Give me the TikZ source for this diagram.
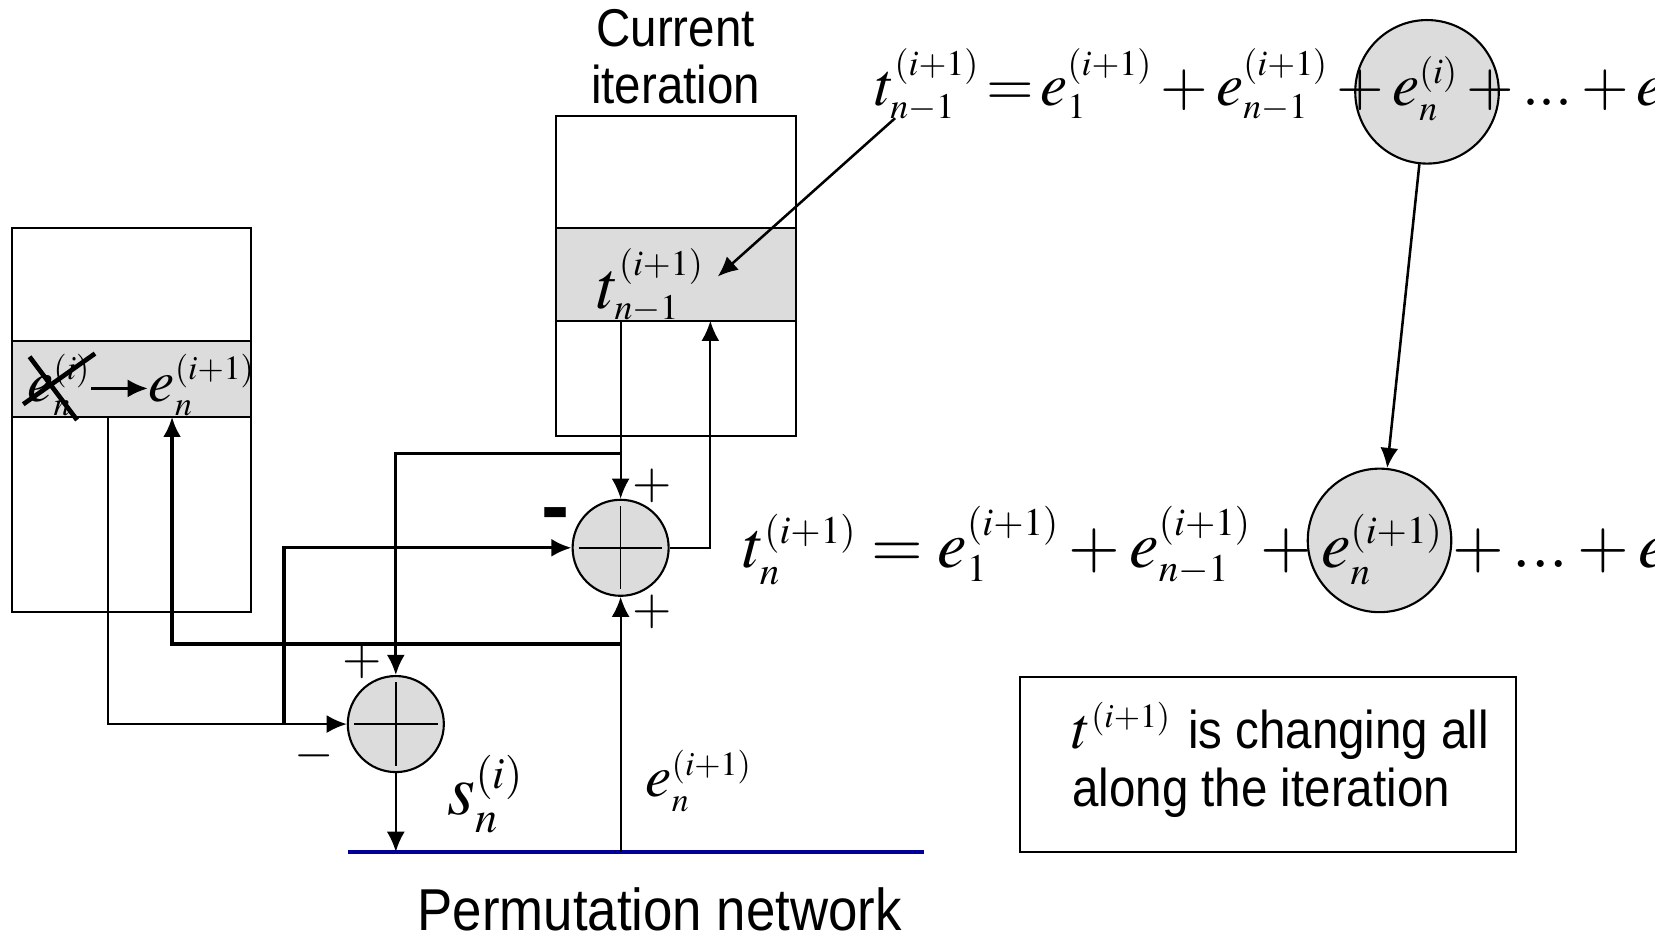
\documentclass[tikz,border=0pt]{standalone}
\usepackage{mathptmx}
\usepackage[no-math]{fontspec}
\newfontfamily\arialfont{Liberation Sans}
\usetikzlibrary{arrows.meta,positioning}
\definecolor{cellgray}{RGB}{220,220,220}
\definecolor{netblue}{RGB}{0,0,153}
\DeclareMathSizes{32}{32}{17}{12}
\DeclareMathSizes{31.5}{31.5}{18.5}{13}
\DeclareMathSizes{29}{29}{17}{12}
\DeclareMathSizes{28}{28}{16}{12}
\DeclareMathSizes{34}{34}{21}{15}
\newcommand{\tallbox}[1]{\scalebox{1}[1.12]{#1}}

\begin{document}
\begin{tikzpicture}[%
x=0.5pt, y=-0.5pt, >={Latex[length=9.5pt,width=8.5pt]}, line width=1pt,
mem/.style={draw, rectangle, inner sep=0pt},
cell/.style={draw, rectangle, fill=cellgray, inner sep=0pt},
adder/.style={draw, circle, fill=cellgray, minimum size=45.5pt, inner sep=0pt,
  path picture={\draw[line width=0.7pt] ([xshift=3pt]path picture bounding box.west) -- ([xshift=-3pt]path picture bounding box.east);
    \draw[line width=0.7pt] ([yshift=-3pt]path picture bounding box.north) -- ([yshift=3pt]path picture bounding box.south);}},
termring/.style={draw, circle, fill=cellgray, minimum size=68pt, inner sep=0pt},
topeq/.style={anchor=base west, inner sep=0pt, font=\fontsize{29}{33}\selectfont},
bigeq/.style={anchor=base west, inner sep=0pt, font=\fontsize{31.5}{36}\selectfont},
bandeq/.style={anchor=base west, inner sep=0pt, font=\fontsize{32}{36}\selectfont},
smalleq/.style={inner sep=0pt, font=\fontsize{28}{32}\selectfont},
sign/.style={inner sep=0pt, font=\fontsize{24}{28}\selectfont},
sans/.style={inner sep=0pt, font=\arialfont\fontsize{22.5}{27}\selectfont}
]
\useasboundingbox (0,0) rectangle (1568,887);
\clip (0,0) rectangle (1568,887);

% memories
\node[mem, minimum width=113.5pt, minimum height=182pt] (memL) at (124.5,398) {};
\node[cell, minimum width=113.5pt, minimum height=36pt] (bandL) at (124.5,359) {};
\node[mem, minimum width=113.5pt, minimum height=151.5pt] (memC) at (640.5,261.5) {};
\node[cell, minimum width=113.5pt, minimum height=44pt] (bandC) at (640.5,260) {};
\node[sans, align=center] (curLbl) at (640,54) {\tallbox{Current}\\\tallbox{iteration}};

% marked terms
\node[termring] (topC) at (1352,87) {};
\node[termring] (botC) at (1307,512) {};

% equations
\node[topeq] (eqTop) at (828,100) {$\thickmuskip=2mu\medmuskip=2.4mu
  t_{n-1}^{(i+1)} = e_1^{(i+1)} + e_{n-1}^{(i+1)} + e_n^{(i)} + ... + e_d^{(i)}$};
\node[bigeq] (eqMid) at (703,538) {$\medmuskip=2.5mu
  t_n^{(i+1)} = e_1^{(i+1)} + e_{n-1}^{(i+1)} + e_n^{(i+1)} + ... + e_d^{(i+1)}$};
\node[bandeq] (tBand) at (565,292) {$t_{n-1}^{(i+1)}$};

% left cell content
\node[smalleq, anchor=base west] (eOld) at (25,380) {$e_n^{(i)}$};
\node[smalleq, anchor=base west] (eNew) at (140,380) {$e_n^{(i+1)}$};
\draw[->, line width=1.3pt] (eOld.east |- 0,368) -- (eNew.west |- 0,368);
\draw[line width=2.2pt] (22,383) -- (90,335);
\draw[line width=2.2pt] (28,338) -- (73,398);

% adders
\node[adder] (add1) at (588,519) {};
\node[adder] (add2) at (375,686) {};
\node[sign] (pA) at (618,460) {$+$};
\node[sign] (pB) at (618,580) {$+$};
\node[sign] (pC) at (343,627) {$+$};
\node[sign] (mC) at (298,716) {$-$};
\node[inner sep=0pt, font=\arialfont\bfseries\fontsize{40}{40}\selectfont] (mA) at (526,494) {-};

% permutation network
\coordinate (pnW) at (330,807);
\coordinate (pnE) at (875,807);
\coordinate (pnA) at (588,807);
\draw[netblue, line width=2pt] (pnW) -- (pnE);
\node[sans, anchor=base, font=\arialfont\fontsize{25}{30}\selectfont] (pnLbl) at (625,882) {\tallbox{Permutation network}};
\node[smalleq, font=\fontsize{34}{38}\selectfont] (sLbl) at (460,752) {$s_n^{(i)}$};
\node[smalleq] (eLbl) at (662,740) {$e_n^{(i+1)}$};

% note
\node[draw, minimum width=235pt, minimum height=83pt] (note) at (1201,724) {};
\node[sans, anchor=west, align=left, font=\arialfont\fontsize{22.5}{27.5}\selectfont] (noteTxt) at (1015,720)
  {{\fontsize{28}{28}\selectfont$t^{(i+1)}$}\hspace{8pt}\tallbox{is changing all}\\\tallbox{along the iteration}};

% connectors
\coordinate (jT) at (588,430);
\coordinate (inC) at (673,304);
\coordinate (outL) at (102,395);
\coordinate (jL) at (269,686);
\coordinate (inL) at (163,395);
\coordinate (jB) at (588,610);
\coordinate (tSrc) at (848,112);
\coordinate (tDst) at (680,262);
\draw[->] (bandC.south -| add1.north) -- (add1.north);
\draw[->, line width=1.3pt] (jT) -| (add2.north);
\draw[->] (add1.east) -| (inC);
\draw[->] (outL) |- (add2.west);
\draw[->, line width=1.6pt] (jL) |- (add1.west);
\draw[->] (pnA) -- (add1.south);
\draw[->, line width=1.6pt] (jB) -| (inL);
\draw[->] (add2.south) -- (add2.south |- pnW);
\draw[->, line width=1.2pt] (topC) -- (botC);
\draw[->, line width=1.2pt] (tSrc) -- (tDst);
\end{tikzpicture}
\end{document}
